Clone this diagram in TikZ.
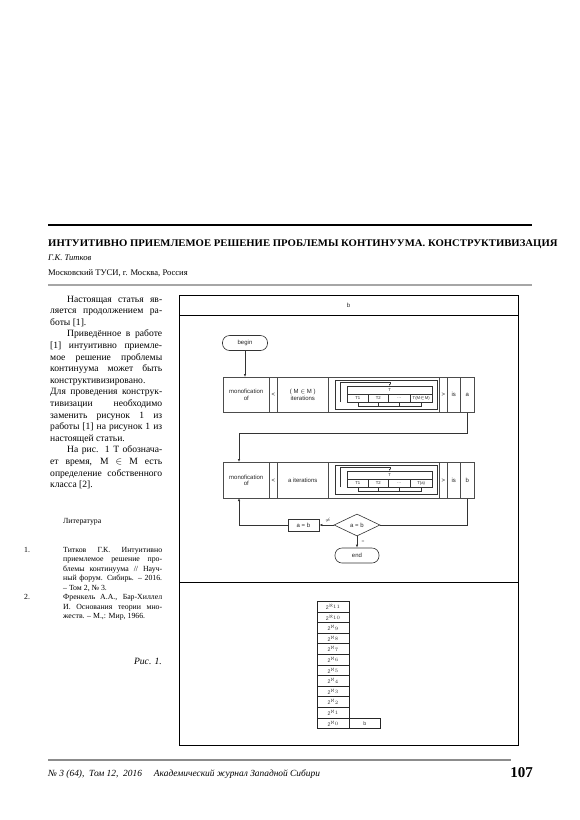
\documentclass[tikz,border=0pt]{standalone}
\usepackage{fontspec}
\setmainfont{Liberation Serif}
\newfontfamily\dsans{Liberation Sans}
\usetikzlibrary{shapes.geometric,arrows.meta,calc}
\newcommand{\jl}[2]{\makebox[#1pt][s]{#2}}
\begin{document}
\begin{tikzpicture}[x=1pt,y=-1pt,
  tx/.style={inner sep=0pt,anchor=base west,font=\fontsize{9.6}{11}\selectfont},
  lit/.style={inner sep=0pt,anchor=base west,font=\fontsize{7.8}{9}\selectfont},
  dg/.style={font=\dsans\fontsize{6}{6.6}\selectfont,inner sep=0pt,align=center,text=black!85},
  cellbox/.style={draw=black!70,line width=0.5,inner sep=0pt,anchor=north west,font=\dsans\fontsize{6}{6.6}\selectfont,align=center,text=black!85},
  tbox/.style={draw=black!80,line width=0.45,inner sep=0pt,anchor=north west,font=\dsans\fontsize{4.2}{5}\selectfont,text=black!85},
  stk/.style={draw=black!85,line width=0.8,inner sep=0pt,anchor=south west,minimum width=32,minimum height=10.6,font=\dsans\fontsize{5.2}{6}\selectfont,text=black!80},
  arr/.style={-{Latex[length=3pt,width=2.4pt]},line width=0.6,draw=black!80},
  ln/.style={line width=0.6,draw=black!80},
  thin/.style={line width=0.45,draw=black!80},
  term/.style={draw=black!80,line width=0.6,rounded corners=7pt,minimum width=45,minimum height=15,inner sep=0pt,font=\dsans\fontsize{6}{6.6}\selectfont,text=black!85},
]
\useasboundingbox (0,0) rectangle (580,820);
\fill[white] (0,0) rectangle (580,820);

% ---- header of the article
\draw[line width=2] (48,225) -- (532,225);
\node[inner sep=0pt,anchor=base west,font=\bfseries\fontsize{10}{12}\selectfont] (title) at (48,246) {\scalebox{1.07}[1.02]{ИНТУИТИВНО ПРИЕМЛЕМОЕ РЕШЕНИЕ ПРОБЛЕМЫ КОНТИНУУМА. КОНСТРУКТИВИЗАЦИЯ}};
\node[inner sep=0pt,anchor=base west,font=\itshape\fontsize{8.6}{10}\selectfont] (author) at (48,260) {Г.К. Титков};
\node[inner sep=0pt,anchor=base west,font=\fontsize{8.6}{10}\selectfont] (affil) at (48,275.5) {Московский ТУСИ, г. Москва, Россия};
\draw[line width=1.8,black!35] (48,285) -- (532,285);

% ---- left column
\node[tx] (c1) at (67,302.0) {\jl{95}{Настоящая статья яв-}};
\node[tx] (c2) at (50,313.6) {\jl{112}{ляется продолжением ра-}};
\node[tx] (c3) at (50,325.2) {боты [1].};
\node[tx] (c4) at (67,336.8) {\jl{95}{Приведённое в работе}};
\node[tx] (c5) at (50,348.4) {\jl{112}{[1] интуитивно приемле-}};
\node[tx] (c6) at (50,360.0) {\jl{112}{мое решение проблемы}};
\node[tx] (c7) at (50,371.6) {\jl{112}{континуума может быть}};
\node[tx] (c8) at (50,383.2) {конструктивизировано.};
\node[tx] (c9) at (50,394.8) {\jl{112}{Для проведения конструк-}};
\node[tx] (c10) at (50,406.4) {\jl{112}{тивизации необходимо}};
\node[tx] (c11) at (50,418.0) {\jl{112}{заменить рисунок 1 из}};
\node[tx] (c12) at (50,429.6) {\jl{112}{работы [1] на рисунок 1 из}};
\node[tx] (c13) at (50,441.2) {настоящей статьи.};
\node[tx] (c14) at (67,452.8) {\jl{95}{На рис. 1 T обознача-}};
\node[tx] (c15) at (50,464.4) {\jl{112}{ет время, M $\in$ M есть}};
\node[tx] (c16) at (50,476.0) {\jl{112}{определение собственного}};
\node[tx] (c17) at (50,487.6) {класса [2].};

% ---- literature
\node[lit] (l0) at (63,523) {Литература};
\node[lit] (n1) at (24,552) {1.};
\node[lit] (l1) at (63,552) {\jl{99}{Титков Г.К. Интуитивно}};
\node[lit] (l2) at (63,561.5) {\jl{99}{приемлемое решение про-}};
\node[lit] (l3) at (63,571) {\jl{99}{блемы континуума // Науч-}};
\node[lit] (l4) at (63,580.5) {\jl{99}{ный форум. Сибирь. – 2016.}};
\node[lit] (l5) at (63,590) {– Том 2, № 3.};
\node[lit] (n2) at (24,599.5) {2.};
\node[lit] (l6) at (63,599.5) {\jl{99}{Френкель А.А., Бар-Хиллел}};
\node[lit] (l7) at (63,609) {\jl{99}{И. Основания теории мно-}};
\node[lit] (l8) at (63,618.5) {жеств. – М.,: Мир, 1966.};
\node[inner sep=0pt,anchor=base east,font=\itshape\fontsize{9.6}{11}\selectfont] (fig) at (162,664) {Рис. 1.};

% ---- figure frame
\draw[line width=0.9] (179,295) rectangle (518,745);
\draw[line width=0.8] (179,315) -- (518,315);
\draw[line width=0.8] (179,582) -- (518,582);
\node[dg] (hb) at (348.5,305) {b};

% ---- flowchart
\node[term] (begin) at (245,343) {begin};

% row 1
\node[cellbox,minimum width=46,minimum height=35] (mo1) at (223,377) {monofication\\of};
\node[cellbox,minimum width=8,minimum height=35] (lt1) at (269,377) {<};
\node[cellbox,minimum width=51,minimum height=35] (it1) at (277,377) {( M $\in$ M )\\iterations};
\node[cellbox,minimum width=111,minimum height=35] (tc1) at (328,377) {};
\node[cellbox,minimum width=8,minimum height=35] (gt1) at (439,377) {>};
\node[cellbox,minimum width=13,minimum height=35] (is1) at (447,377) {is};
\node[cellbox,minimum width=14,minimum height=35] (a1) at (460,377) {a};
\draw[thin] (335,380) rectangle (437,409);
\node[tbox,minimum width=85,minimum height=8] (T1) at (347,386) {T};
\node[tbox,minimum width=21,minimum height=8] (t11) at (347,394) {T1};
\node[tbox,minimum width=20,minimum height=8] (t12) at (368,394) {T2};
\node[tbox,minimum width=22,minimum height=8] (t13) at (388,394) {...};
\node[tbox,minimum width=22,minimum height=8] (t14) at (410,394) {T(M$\in$M)};
\draw[thin] (t11.south) -- ++(0,4) -| (t14.south);
\draw[thin] (t12.south) -- ++(0,4);
\draw[thin] (t13.south) -- ++(0,4);
\coordinate (lp1) at (340,402);
\draw[thin,-{Latex[length=2pt,width=1.6pt]}] (lp1) -- (340,382.5) -| (T1.north);

% row 2
\node[cellbox,minimum width=46,minimum height=36] (mo2) at (223,462) {monofication\\of};
\node[cellbox,minimum width=8,minimum height=36] (lt2) at (269,462) {<};
\node[cellbox,minimum width=51,minimum height=36] (it2) at (277,462) {a iterations};
\node[cellbox,minimum width=111,minimum height=36] (tc2) at (328,462) {};
\node[cellbox,minimum width=8,minimum height=36] (gt2) at (439,462) {>};
\node[cellbox,minimum width=13,minimum height=36] (is2) at (447,462) {is};
\node[cellbox,minimum width=14,minimum height=36] (b2) at (460,462) {b};
\draw[thin] (335,465) rectangle (437,494);
\node[tbox,minimum width=85,minimum height=8] (T2) at (347,471) {T};
\node[tbox,minimum width=21,minimum height=8] (t21) at (347,479) {T1};
\node[tbox,minimum width=20,minimum height=8] (t22) at (368,479) {T2};
\node[tbox,minimum width=22,minimum height=8] (t23) at (388,479) {...};
\node[tbox,minimum width=22,minimum height=8] (t24) at (410,479) {T(a)};
\draw[thin] (t21.south) -- ++(0,4) -| (t24.south);
\draw[thin] (t22.south) -- ++(0,4);
\draw[thin] (t23.south) -- ++(0,4);
\coordinate (lp2) at (340,487);
\draw[thin,-{Latex[length=2pt,width=1.6pt]}] (lp2) -- (340,467.5) -| (T2.north);

% decision part
\node[diamond,draw=black!80,line width=0.6,aspect=2.1,minimum width=46,minimum height=22,inner sep=0pt,dg] (dia) at (357,525) {a = b};
\node[draw=black!80,line width=0.6,minimum width=31,minimum height=12,inner sep=0pt,dg] (rab) at (303.5,525) {a = b};
\node[term,minimum width=44] (end) at (357,555.5) {end};

% connectors
\draw[arr] (begin.south) -- (begin.south |- mo1.north);
\coordinate (in2) at (239,462);
\coordinate (out2) at (239,498);
\draw[arr] (a1.south) -- ++(0,21) -| (in2);
\draw[ln] (b2.south) |- (dia.east);
\draw[arr] (dia.west) -- (rab.east);
\node[dg,font=\fontsize{5}{6}\selectfont] (neq) at (328,520.5) {$\neq$};
\draw[arr] (rab.west) -| (out2);
\draw[arr] (dia.south) -- (end.north);
\node[dg,font=\fontsize{5}{6}\selectfont] (eqs) at (363,542) {=};

% ---- stack of powers
\foreach \i in {0,...,11} {
  \node[stk] (s\i) at (317,{729-10.6*\i}) {2$^{\aleph_{\i}}$};
}
\node[stk,minimum width=31] (sb) at (349,729) {b};

% ---- footer
\draw[line width=1.2,black!45] (48,760) -- (511,760);
\node[inner sep=0pt,anchor=base west,font=\itshape\fontsize{9.4}{11}\selectfont] (foot) at (48,776) {№ 3 (64),\ \ Том 12,\ \ 2016\hspace{12pt}Академический журнал Западной Сибири};
\node[inner sep=0pt,anchor=base east,font=\bfseries\fontsize{15}{16}\selectfont] (pn) at (533,777) {107};
\end{tikzpicture}
\end{document}
